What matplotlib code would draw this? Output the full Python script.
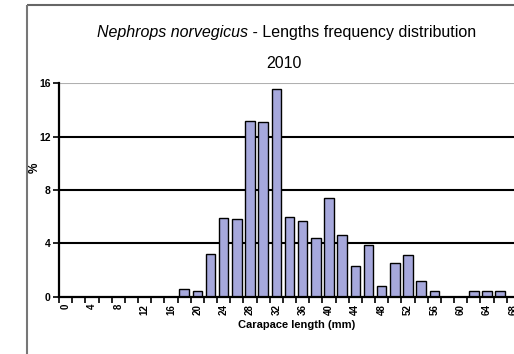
import numpy as np
import matplotlib
matplotlib.use("Agg")
import matplotlib.pyplot as plt
from matplotlib.lines import Line2D

plt.rcParams['font.family'] = ['Liberation Sans', 'DejaVu Sans']

# carapace length classes (mm) and frequency (%)
lengths = list(range(0, 70, 2))
pct = [0, 0, 0, 0, 0, 0, 0, 0, 0, 0.6, 0.4, 3.2, 5.9, 5.8, 13.2, 13.1, 15.6, 6.0,
       5.7, 4.4, 7.4, 4.6, 2.3, 3.9, 0.8, 2.5, 3.1, 1.2, 0.4, 0, 0, 0.4, 0.4, 0.4, 0]
tick_labels = [str(v) for v in range(0, 70, 4)]
y_ticks = [0, 4, 8, 12, 16]

W, H = 514, 354
fig = plt.figure(figsize=(W / 100, H / 100), dpi=100, facecolor='white', edgecolor='none')
fig.patch.set_linewidth(0)

# outer chart border (cut on right and bottom like the reference)
fig.add_artist(Line2D([27 / W, 1.01], [1 - 5 / H, 1 - 5 / H], color='#666666', lw=1.5,
                      solid_capstyle='butt'))
fig.add_artist(Line2D([27 / W, 27 / W], [-0.01, 1 - 5 / H], color='#777777', lw=1.5,
                      solid_capstyle='butt'))

ax = fig.add_axes([59 / W, 57.3 / H, 461 / W, 213.4 / H])
ax.set_xlim(-1, 69)
ax.set_ylim(0, 16)

# grid lines
for g in y_ticks[1:-1]:
    ax.axhline(g, color='black', lw=1.5, zorder=1)
ax.axhline(16, color='#b0b0b0', lw=1.5, zorder=1)

ax.bar(lengths, pct, width=1.45, color='#a6a8dc', edgecolor='black', lw=1.0, zorder=3)

for s in ['top', 'right']:
    ax.spines[s].set_visible(False)
ax.spines['left'].set_linewidth(1.6)
ax.spines['bottom'].set_linewidth(1.6)
ax.spines['bottom'].set_zorder(4)

# tick marks at class boundaries, labels every 4 mm
ax.set_xticks(np.arange(-1, 70, 2))
ax.set_xticklabels([])
ax.tick_params(axis='x', which='major', length=4, width=1.2, direction='out')
ax.set_xticks(range(0, 70, 4), minor=True)
ax.set_xticklabels(tick_labels, minor=True, rotation=90, fontsize=7, fontweight='bold')
ax.tick_params(axis='x', which='minor', length=0, pad=5)

ax.set_yticks(y_ticks)
ax.set_yticklabels([str(v) for v in y_ticks], fontsize=7.5, fontweight='bold')
ax.tick_params(axis='y', length=4, width=1.2, direction='out', pad=2)

fig.text(35 / W, 1 - 168 / H, '%', rotation=90, fontsize=8.5, fontweight='bold',
         ha='center', va='center')
fig.text(297 / W, 1 - 325 / H, 'Carapace length (mm)', fontsize=8, fontweight='bold',
         ha='center', va='center')

# title: italic species name followed by plain text
t1 = fig.text(97 / W, 1 - 37 / H, 'Nephrops norvegicus', fontsize=11.5, style='italic',
              ha='left', va='baseline')
fig.canvas.draw()
x1 = t1.get_window_extent().x1 / W
fig.text(x1, 1 - 37 / H, ' - Lengths frequency distribution', fontsize=11.5,
         ha='left', va='baseline')
fig.text(284 / W, 1 - 63 / H, '2010', fontsize=11.5, ha='center', va='center')

fig.savefig('out.png', dpi=100, facecolor='white', edgecolor='none')
